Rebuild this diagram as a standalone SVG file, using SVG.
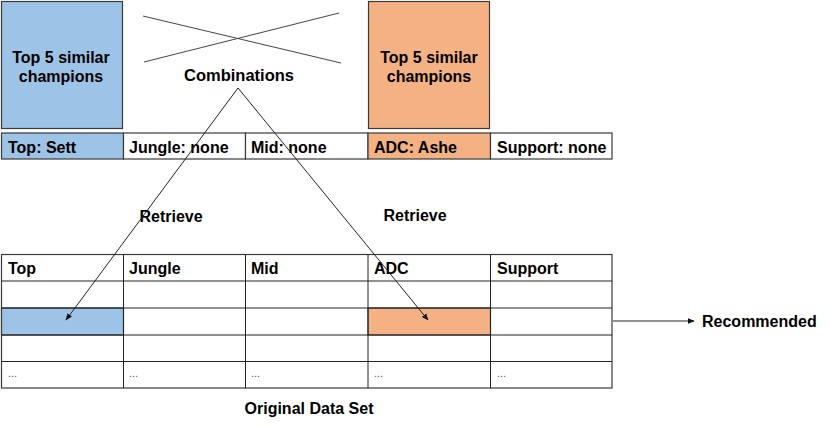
<svg xmlns="http://www.w3.org/2000/svg" width="830" height="428" viewBox="0 0 830 428">
<style>
text{font-family:"Liberation Sans",Arial,sans-serif;font-weight:bold;fill:#000}
.c{stroke:#3a3a3a;stroke-width:1.2;fill:#fff}
.b{fill:#9DC3E6}
.o{fill:#F4B183}
.t{font-size:16px}
.d{font-size:11px;font-weight:normal;fill:#555}
.ln{stroke:#222;stroke-width:1;fill:none}
</style>
<defs>
<marker id="ah" viewBox="0 0 10 10" refX="9" refY="5" markerWidth="7" markerHeight="7" orient="auto" markerUnits="userSpaceOnUse">
<path d="M0,1 L10,5 L0,9 z" fill="#111"/>
</marker>
</defs>
<g id="blueBox"><rect class="c b" x="1.5" y="1.5" width="121" height="127"/>
<text class="t" x="61" y="63" text-anchor="middle">Top 5 similar</text>
<text class="t" x="61" y="82" text-anchor="middle">champions</text></g>
<g id="orangeBox"><rect class="c o" x="368.5" y="1.5" width="121" height="127"/>
<text class="t" x="429" y="63" text-anchor="middle">Top 5 similar</text>
<text class="t" x="429" y="82" text-anchor="middle">champions</text></g>
<g id="combinations">
<line x1="143" y1="16" x2="341" y2="63" stroke="#444" stroke-width="1"/>
<line x1="144" y1="62" x2="339" y2="13" stroke="#444" stroke-width="1"/>
<text x="239" y="81" font-size="16.5" text-anchor="middle">Combinations</text></g>
<g id="query">
<rect class="c b" x="1.5" y="133" width="122" height="26"/>
<rect class="c" x="123.5" y="133" width="122" height="26"/>
<rect class="c" x="245.5" y="133" width="122.5" height="26"/>
<rect class="c o" x="368" y="133" width="122.5" height="26"/>
<rect class="c" x="490.5" y="133" width="121.5" height="26"/>
<text class="t" x="8" y="152.5">Top: Sett</text>
<text class="t" x="129" y="152.5">Jungle: none</text>
<text class="t" x="251" y="152.5">Mid: none</text>
<text class="t" x="374" y="152.5">ADC: Ashe</text>
<text class="t" x="497" y="152.5">Support: none</text></g>
<g id="dataset">
<rect class="c" x="1.5" y="254.5" width="610.5" height="133.5"/>
<rect class="c b" x="1.5" y="308" width="122" height="27"/>
<rect class="c o" x="368" y="308" width="122.5" height="27"/>
<g class="ln" stroke="#3a3a3a">
<line x1="1.5" y1="281" x2="612" y2="281"/>
<line x1="1.5" y1="308" x2="612" y2="308"/>
<line x1="1.5" y1="335" x2="612" y2="335"/>
<line x1="1.5" y1="361.5" x2="612" y2="361.5"/>
<line x1="123.5" y1="254.5" x2="123.5" y2="388"/>
<line x1="245.5" y1="254.5" x2="245.5" y2="388"/>
<line x1="368" y1="254.5" x2="368" y2="388"/>
<line x1="490.5" y1="254.5" x2="490.5" y2="388"/>
</g>
<text class="t" x="8" y="274">Top</text>
<text class="t" x="129" y="274">Jungle</text>
<text class="t" x="251" y="274">Mid</text>
<text class="t" x="374" y="274">ADC</text>
<text class="t" x="497" y="274">Support</text>
<text class="d" x="8" y="377">...</text>
<text class="d" x="129" y="377">...</text>
<text class="d" x="251" y="377">...</text>
<text class="d" x="374" y="377">...</text>
<text class="d" x="497" y="377">...</text>
<text class="t" x="309" y="414" text-anchor="middle">Original Data Set</text></g>
<g id="recommended"><text class="t" x="702" y="327">Recommended</text></g>
<g id="retrieveLabels">
<text class="t" x="171" y="222" text-anchor="middle">Retrieve</text>
<text class="t" x="415" y="221" text-anchor="middle">Retrieve</text></g>
<g id="connectors">
<line class="ln" x1="238" y1="88" x2="66" y2="320" marker-end="url(#ah)"/>
<line class="ln" x1="238" y1="88" x2="428" y2="320" marker-end="url(#ah)"/>
<line class="ln" x1="613" y1="321" x2="694" y2="321" marker-end="url(#ah)"/>
</g>
</svg>
